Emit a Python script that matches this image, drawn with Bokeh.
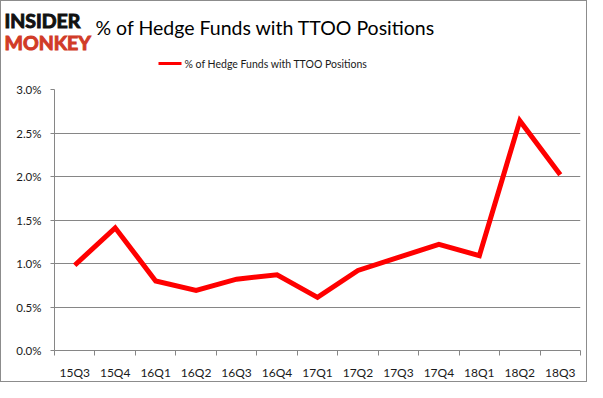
from bokeh.plotting import figure
from bokeh.layouts import column
from bokeh.models import Range1d, FixedTicker, PrintfTickFormatter
from bokeh.core.properties import value
from bokeh.embed import file_html
from bokeh.resources import INLINE

# ---- data ----
quarters = ["15Q3", "15Q4", "16Q1", "16Q2", "16Q3", "16Q4", "17Q1",
            "17Q2", "17Q3", "17Q4", "18Q1", "18Q2", "18Q3"]
pct_values = [0.98, 1.41, 0.80, 0.69, 0.82, 0.87, 0.61,
              0.92, 1.07, 1.22, 1.09, 2.64, 2.02]
y_ticks = [0.0, 0.5, 1.0, 1.5, 2.0, 2.5, 3.0]
series_name = "% of Hedge Funds with TTOO Positions"
title_text = "% of Hedge Funds with TTOO Positions"
logo_top = "INSIDER"
logo_bottom = "MONKEY"

W = 587
HEAD_H = 81
MAIN_H = 301
FL, FR = 54, 7
GRAY = "#868686"
TXT = "#1a1a1a"
RED = "#ff0000"
FONT = "Lato"

# ---- header: logo, title, legend (pixel coordinates, y down) ----
h = figure(width=W, height=HEAD_H, output_backend="svg", toolbar_location=None,
           x_range=Range1d(0, W), y_range=Range1d(HEAD_H, 0),
           x_axis_type=None, y_axis_type=None,
           min_border_left=0, min_border_right=0, min_border_top=0,
           min_border_bottom=0, border_fill_alpha=0, background_fill_alpha=0)
h.frame_align = False
h.outline_line_color = None
h.grid.visible = False

h.text(x=[4], y=[20], text=[logo_top], text_font=value(FONT),
       text_font_style="bold", text_font_size="19.5px", text_color="#111111",
       text_outline_color="#111111", text_baseline="middle")
h.text(x=[4], y=[42], text=[logo_bottom], text_font=value(FONT),
       text_font_style="bold", text_font_size="19.5px", text_color="#d13b27",
       text_outline_color="#d13b27", text_baseline="middle")
h.text(x=[95], y=[27], text=[title_text], text_font=value(FONT),
       text_font_size="19.5px", text_color="#000000",
       text_baseline="middle")
h.line(x=[158, 181], y=[63, 63], line_color=RED, line_width=3)
h.text(x=[184], y=[63], text=[series_name], text_font=value(FONT),
       text_font_size="10.5px", text_color=TXT, text_baseline="middle")

# ---- main chart ----
xs = [i + 0.5 for i in range(len(quarters))]

p = figure(width=W, height=MAIN_H, output_backend="svg", toolbar_location=None,
           x_range=Range1d(0, len(quarters)), y_range=Range1d(0, 3.0),
           min_border_left=FL, min_border_right=FR, min_border_top=8,
           min_border_bottom=29, border_fill_alpha=0)
p.frame_align = False
p.outline_line_color = None

p.line(xs, pct_values, line_color=RED, line_width=5, line_join="miter")

xa = p.xaxis[0]
xa.ticker = FixedTicker(ticks=xs, minor_ticks=list(range(len(quarters) + 1)))
xa.major_label_overrides = {x: q for x, q in zip(xs, quarters)}
xa.major_tick_out = 0
xa.major_tick_in = 0
xa.minor_tick_out = 5
xa.minor_tick_in = 0
xa.minor_tick_line_color = GRAY
xa.axis_line_color = GRAY
xa.major_label_standoff = 9
xa.major_label_text_font = FONT
xa.major_label_text_font_size = "12px"
xa.major_label_text_color = TXT

ya = p.yaxis[0]
ya.ticker = FixedTicker(ticks=y_ticks, minor_ticks=[])
ya.formatter = PrintfTickFormatter(format="%.1f%%")
ya.major_tick_out = 4
ya.major_tick_in = 0
ya.major_tick_line_color = GRAY
ya.axis_line_color = GRAY
ya.major_label_standoff = 9
ya.major_label_text_font = FONT
ya.major_label_text_font_size = "11.5px"
ya.major_label_text_color = TXT

p.xgrid.grid_line_color = None
p.ygrid.ticker = FixedTicker(ticks=y_ticks)
p.ygrid.grid_line_color = GRAY
p.ygrid.grid_line_width = 1

layout = column(h, p, spacing=0,
                styles={"box-shadow": "inset 0 0 0 1px #8c8c8c",
                        "background-color": "white"})
open("out.html", "w").write(file_html(layout, INLINE))
